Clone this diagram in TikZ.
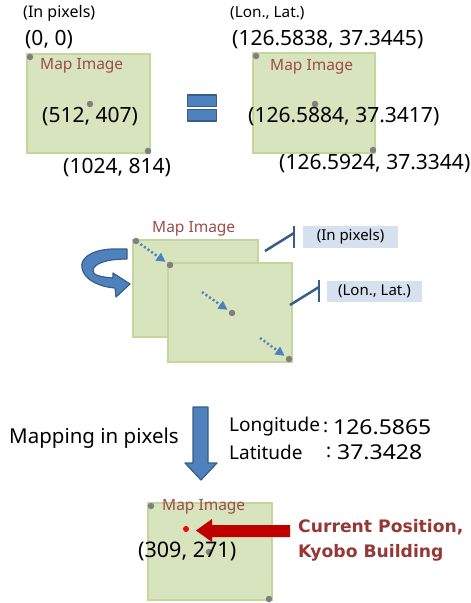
\documentclass[tikz,border=0pt]{standalone}
\usepackage{fontspec}
\setmainfont{Noto Sans}
\newfontfamily\boldsans{DejaVu Sans Bold}
\newfontfamily\widenum{Noto Sans}[FakeStretch=1.12]
\usetikzlibrary{calc,arrows.meta}
\definecolor{boxfill}{HTML}{D7E4BD}
\definecolor{boxline}{HTML}{C3D69B}
\definecolor{maptxt}{HTML}{9E4B47}
\definecolor{dotgray}{HTML}{7F7F7F}
\definecolor{blfill}{HTML}{4F81BD}
\definecolor{blline}{HTML}{385D8A}
\definecolor{lblfill}{HTML}{D5E1EF}
\definecolor{redarrow}{HTML}{C00000}
\definecolor{redtxt}{HTML}{953735}
\newcommand{\fs}[1]{\fontsize{#1}{#1}\selectfont}
\begin{document}
\begin{tikzpicture}[x=1pt,y=-1pt,
  mapbox/.style={draw=boxline,fill=boxfill,line width=1.5pt,inner sep=0pt},
  dotnode/.style={circle,fill=dotgray,inner sep=0pt,minimum size=6.5pt},
  txt/.style={inner sep=0pt,anchor=west,font=\fs{21}},
  small/.style={inner sep=0pt,anchor=west,font=\fs{16}},
  maplabel/.style={inner sep=0pt,anchor=west,font=\fs{15.5},text=maptxt},
  lblbox/.style={fill=lblfill,inner sep=0pt,minimum width=95pt,minimum height=22pt,font=\fs{15}},
  callout/.style={draw=blline,line width=2.5pt},
  dotarrow/.style={draw=blfill,line width=2.5pt,dash pattern=on 2pt off 2.4pt,-{Triangle[length=9pt,width=9pt]}},
  blueshape/.style={fill=blfill,draw=blline,line width=1.2pt,line join=round},
  bigtxt/.style={inner sep=0pt,anchor=west,font=\fs{19}},
  numtxt/.style={inner sep=0pt,anchor=west,font=\widenum\fs{20.5}},
  redlabel/.style={inner sep=0pt,anchor=west,font=\fs{17.2}\boldsans,text=redtxt}
]
\useasboundingbox (0,0) rectangle (471,603);

% ---------- top section ----------
\node[small] (tpx) at (23,13) {(In pixels)};
\node[txt] (t00) at (25,40) {(0, 0)};
\node[mapbox,minimum width=123pt,minimum height=99pt] (b1) at (88.5,103.5) {};
\node[maplabel] (m1) at (40,66) {Map Image};
\node[dotnode] (d1a) at (30,57) {};
\node[dotnode] (d1b) at (90,104) {};
\node[dotnode] (d1c) at (148,151) {};
\node[txt] (t512) at (42,117) {(512, 407)};
\node[txt] (t1024) at (63,168) {(1024, 814)};

\draw[blueshape] (187.5,95) rectangle (216.5,106.5);
\draw[blueshape] (187.5,109.5) rectangle (216.5,121);

\node[small,font=\fs{15.3}] (tll) at (230,13) {(Lon., Lat.)};
\node[txt] (tl1) at (232,40) {(126.5838, 37.3445)};
\node[mapbox,minimum width=122pt,minimum height=100pt] (b2) at (314,103) {};
\node[maplabel] (m2) at (270,67) {Map Image};
\node[dotnode] (d2a) at (256,56) {};
\node[dotnode] (d2b) at (315,104) {};
\node[dotnode] (d2c) at (373,150) {};
\node[txt] (tl2) at (248,117) {(126.5884, 37.3417)};
\node[txt] (tl3) at (279,164) {(126.5924, 37.3344)};

% ---------- middle section ----------
\node[maplabel] (m3) at (152,229) {Map Image};
\node[mapbox,minimum width=125pt,minimum height=97pt] (b3) at (195.5,288.5) {};
\node[mapbox,minimum width=124pt,minimum height=99pt] (b4) at (230,312.5) {};
\node[dotnode] (d3a) at (136,241) {};
\node[dotnode] (d4a) at (170,265) {};
\node[dotnode] (d4b) at (232,313) {};
\node[dotnode] (d4c) at (289,359) {};
\coordinate (s2) at (202,292);
\coordinate (s3) at (260,338);
\draw[dotarrow,shorten <=2pt,shorten >=2pt] (d3a) -- (d4a);
\draw[dotarrow,shorten >=2pt] (s2) -- (d4b);
\draw[dotarrow,shorten >=2pt] (s3) -- (d4c);

\node[lblbox] (lb1) at (350.5,237) {(In pixels)};
\node[lblbox,minimum height=21pt] (lb2) at (374.5,291.5) {(Lon., Lat.)};
\coordinate (c1a) at (265,251);
\coordinate (c1b) at (294,233);
\coordinate (c1t) at (294,226);
\coordinate (c1u) at (294,248);
\draw[callout] (c1a) -- (c1b);
\draw[callout] (c1t) -- (c1u);
\coordinate (c2a) at (290,305);
\coordinate (c2b) at (319,287);
\coordinate (c2t) at (319,280);
\coordinate (c2u) at (319,302);
\draw[callout] (c2a) -- (c2b);
\draw[callout] (c2t) -- (c2u);

% curved arrow
\draw[blueshape] (127,249) -- (112,249)
  .. controls (90,250) and (80,259) .. (82,268)
  .. controls (84,280) and (100,287) .. (115,288)
  -- (116,297) -- (130,284) -- (113,273) -- (113,278)
  .. controls (100,277) and (92,275) .. (93,270)
  .. controls (94,264) and (105,259) .. (127,259) -- cycle;

% ---------- bottom section ----------
\draw[blueshape] (193,407) -- (208,407) -- (208,463) -- (217,463) -- (201,480) -- (185,463) -- (193,463) -- cycle;
\node[bigtxt,font=\fs{20.5}] (mip) at (9,438) {Mapping in pixels};
\node[bigtxt] (lon) at (229,427) {Longitude};
\node[bigtxt] (lonc) at (323,427) {:};
\node[numtxt] (lonv) at (333,427) {126.5865};
\node[bigtxt] (lat) at (229,452) {Latitude};
\node[bigtxt] (latc) at (326,452) {:};
\node[numtxt] (latv) at (337,452) {37.3428};

\node[mapbox,minimum width=124pt,minimum height=97pt] (b5) at (210,551.5) {};
\node[maplabel] (m5) at (162,507) {Map Image};
\node[dotnode] (d5a) at (151,506) {};
\node[dotnode] (d5b) at (209,552) {};
\node[dotnode] (d5c) at (269,599) {};
\node[txt,font=\fs{21.5}] (t309) at (138,551) {(309, 271)};
\node[circle,fill=red,inner sep=0pt,minimum size=6pt] (rdot) at (186,529) {};
\fill[redarrow] (290,525) -- (212,525) -- (212,519) -- (196,530.5) -- (212,542) -- (212,537) -- (290,537) -- cycle;
\node[redlabel] (cp) at (298,527) {Current Position,};
\node[redlabel] (kb) at (298,553) {Kyobo Building};
\end{tikzpicture}
\end{document}
